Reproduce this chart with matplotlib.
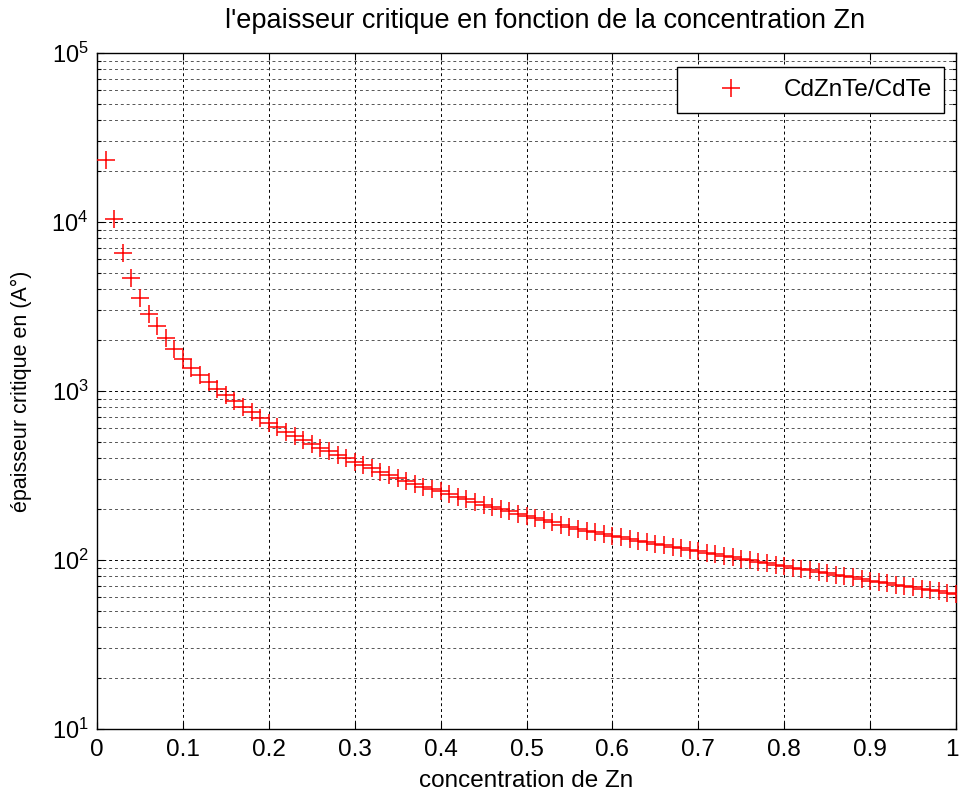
import numpy as np
import matplotlib
matplotlib.use("Agg")
import matplotlib.pyplot as plt
from matplotlib.ticker import LogLocator, FixedLocator
from matplotlib.transforms import ScaledTranslation

plt.rcParams['font.family'] = ['Liberation Sans', 'DejaVu Sans']
plt.rcParams['mathtext.fontset'] = 'custom'
plt.rcParams['mathtext.rm'] = 'Liberation Sans'

# Zn concentration
concentration = [round(0.01 * k, 2) for k in range(1, 101)]

# critical thickness (Angstrom) for CdZnTe/CdTe
epaisseur = [
    23300, 10370, 6580, 4640, 3540, 2870, 2430, 2050, 1770, 1540,
    1370, 1240, 1125, 1030, 946, 873, 806, 748, 696, 649,
    610, 574, 542, 514, 487, 463, 440, 419, 400, 382,
    364, 348, 332, 318, 305, 293, 281, 271, 263, 256,
    246, 237, 229, 221, 213, 206, 200, 194, 188, 183,
    177, 172, 167, 162, 157, 153, 149, 146, 142, 139,
    136, 133, 130, 128, 125, 122.5, 120, 117.6, 115.2, 113,
    110.5, 108.2, 105.9, 103.7, 101.6, 99.6, 97.6, 95.6, 93.8, 92.0,
    90.2, 88.4, 86.7, 85.0, 83.4, 81.8, 80.3, 78.8, 77.1, 75.6,
    74.2, 72.8, 71.5, 70.2, 69.0, 67.7, 66.5, 65.4, 64.2, 62.9,
]

x_ticks = [0, 0.1, 0.2, 0.3, 0.4, 0.5, 0.6, 0.7, 0.8, 0.9, 1]
x_ticklabels = ['0', '0.1', '0.2', '0.3', '0.4', '0.5', '0.6', '0.7', '0.8', '0.9', '1']

fig = plt.figure(figsize=(9.6, 7.97), dpi=100)
ax = fig.add_axes([97 / 960, 68 / 797, 859 / 960, 676 / 797])

ax.semilogy(concentration, epaisseur, linestyle='none', marker='+',
            markersize=12.5, markeredgewidth=1.1, color='#ff0000',
            label='CdZnTe/CdTe', zorder=3)

ax.set_xlim(0, 1)
ax.set_ylim(10, 1e5)
ax.xaxis.set_major_locator(FixedLocator(x_ticks))
ax.set_xticklabels(x_ticklabels)
ax.yaxis.set_major_locator(LogLocator(base=10, numticks=10))
ax.yaxis.set_minor_locator(LogLocator(base=10, subs=np.arange(2, 10), numticks=20))

ax.grid(True, which='major', axis='both', color='black',
        linestyle=(0, (3, 3)), linewidth=0.7)
ax.grid(True, which='minor', axis='y', color='#555555',
        linestyle=(0, (3, 3)), linewidth=0.7)
ax.set_axisbelow(True)

ax.tick_params(which='both', direction='in', top=True, right=True,
               width=0.8, colors='black')
ax.tick_params(axis='x', which='major', labelsize=17.5, length=5, pad=7)
ax.tick_params(axis='y', which='major', labelsize=17, length=5, pad=6)
ax.tick_params(which='minor', length=3)
for s in ax.spines.values():
    s.set_linewidth(1.0)
    s.set_color('black')

# keep the last x tick label inside the figure edge
last = ax.get_xticklabels()[-1]
last.set_horizontalalignment('right')
last.set_transform(last.get_transform() + ScaledTranslation(3 / 100, 0, fig.dpi_scale_trans))

ax.set_title("l'epaisseur critique en fonction de la concentration Zn",
             fontsize=19.5, pad=18, x=0.522)
ax.set_xlabel('concentration de Zn', fontsize=17.5, labelpad=7)
ax.set_ylabel('épaisseur critique en (A°)', fontsize=15.5, labelpad=14)

leg = ax.legend(loc='upper right', fontsize=17.5, frameon=True, fancybox=False,
                edgecolor='black', framealpha=1, borderpad=0.5,
                borderaxespad=0, handlelength=3.5, handletextpad=0.4,
                bbox_to_anchor=((944 - 97) / 859, (729 - 67) / 676))
leg.get_frame().set_linewidth(1.0)

fig.savefig('out.png', dpi=100, facecolor='white')
